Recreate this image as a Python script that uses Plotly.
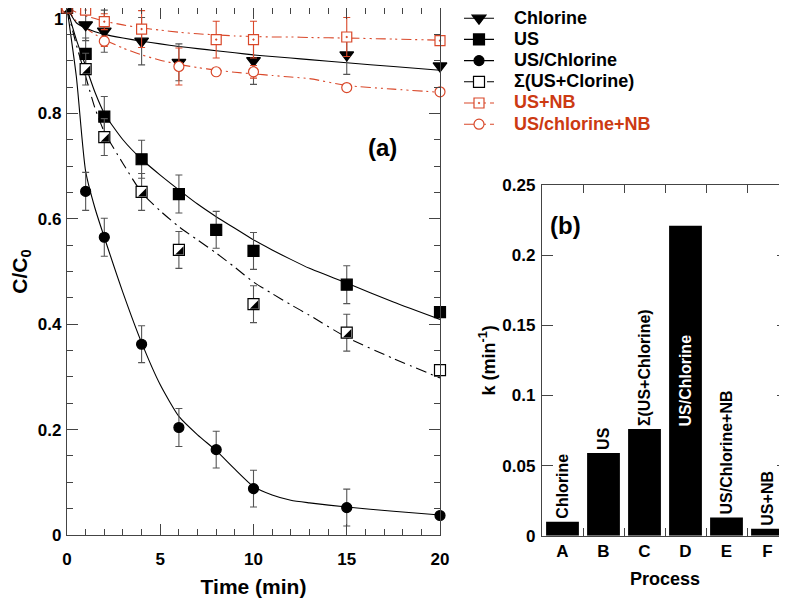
import plotly.graph_objects as go

# ---------------- data (panel a) ----------------
t_chl = [0, 1, 2, 4, 6, 10, 15, 20]
chlorine = [1.0, 0.968, 0.956, 0.937, 0.897, 0.900, 0.911, 0.890]
chlorine_err = [0, 0.03, 0.04, 0.045, 0.035, 0.045, 0.037, 0.0]

t_us = [0, 1, 2, 4, 6, 8, 10, 15, 20]
us = [1.0, 0.913, 0.794, 0.713, 0.647, 0.579, 0.539, 0.475, 0.423]
us_err = [0, 0.03, 0.038, 0.036, 0.036, 0.035, 0.035, 0.036, 0.0]

t_usc = [0, 1, 2, 4, 6, 8, 10, 15, 20]
us_chlorine = [1.0, 0.652, 0.565, 0.362, 0.204, 0.162, 0.088, 0.052, 0.037]
us_chlorine_err = [0, 0.036, 0.036, 0.035, 0.036, 0.035, 0.035, 0.035, 0.0]

t_sig = [0, 1, 2, 4, 6, 10, 15, 20]
sigma = [1.0, 0.884, 0.755, 0.651, 0.541, 0.438, 0.384, 0.313]
sigma_err = [0, 0.03, 0.035, 0.035, 0.035, 0.035, 0.035, 0.0]

t_usnb = [0, 1, 2, 4, 8, 10, 15, 20]
us_nb = [1.0, 0.996, 0.974, 0.960, 0.940, 0.940, 0.945, 0.938]
us_nb_err = [0, 0.0, 0.015, 0.035, 0.035, 0.035, 0.037, 0.0]

t_uscnb = [0, 2, 6, 8, 10, 15, 20]
us_chlorine_nb = [1.0, 0.937, 0.889, 0.879, 0.879, 0.849, 0.841]
us_chlorine_nb_err = [0, 0.01, 0.035, 0.0, 0.012, 0.0, 0.0]

# fitted curves
fit_t = [0, 0.5, 1, 1.5, 2, 3, 4, 5, 6, 7, 8, 9, 10, 11, 12, 13, 15, 17.5, 20]
chlorine_fit = [1.0, 0.972, 0.962, 0.955, 0.950, 0.943, 0.937, 0.932, 0.927, 0.923,
                0.919, 0.915, 0.911, 0.908, 0.905, 0.902, 0.896, 0.889, 0.882]
us_fit = [1.0, 0.94, 0.89, 0.84, 0.80, 0.75, 0.713, 0.683, 0.655, 0.628,
          0.604, 0.582, 0.56, 0.541, 0.523, 0.506, 0.478, 0.442, 0.409]
us_chlorine_fit = [1.0, 0.87, 0.69, 0.62, 0.565, 0.46, 0.365, 0.285, 0.225, 0.19,
                   0.16, 0.125, 0.092, 0.076, 0.066, 0.061, 0.053, 0.045, 0.038]
sigma_fit = [1.0, 0.93, 0.87, 0.81, 0.765, 0.705, 0.65, 0.615, 0.585, 0.56,
             0.535, 0.508, 0.48, 0.458, 0.437, 0.417, 0.375, 0.335, 0.298]
us_nb_fit = [1.0, 0.992, 0.985, 0.98, 0.975, 0.968, 0.962, 0.958, 0.954, 0.951,
             0.949, 0.947, 0.946, 0.945, 0.945, 0.944, 0.943, 0.941, 0.939]
us_chlorine_nb_fit = [1.0, 0.975, 0.962, 0.95, 0.94, 0.924, 0.911, 0.901, 0.893, 0.887,
                      0.882, 0.878, 0.875, 0.872, 0.869, 0.866, 0.853, 0.846, 0.840]

# ---------------- data (panel b) ----------------
processes = ["A", "B", "C", "D", "E", "F"]
process_names = ["Chlorine", "US", "Σ(US+Chlorine)", "US/Chlorine", "US/Chlorine+NB", "US+NB"]
k_values = [0.010, 0.059, 0.076, 0.221, 0.013, 0.005]

x_ticks_a = [0, 5, 10, 15, 20]
y_ticks_a = [0, 0.2, 0.4, 0.6, 0.8]
y_top_tick = 1
y_ticks_b = [0, 0.05, 0.1, 0.15, 0.2, 0.25]

# ---------------- styles ----------------
FONT = "Liberation Sans, Arial, Helvetica, sans-serif"
RED = "#d9482a"
RED_TXT = "#cc3a12"
AX = "#444444"
ERR_BLACK = "#555555"
DASHDOT = "11px,5px,2px,5px"
DASHDOTDOT = "10px,4px,2px,4px,2px,4px"
PAD = "\u00a0\u00a0\u00a0"

# geometry (the page body adds an 8 px offset)
W, H = 787, 598
XA_DOM = [59 / W, 432 / W]
YA_DOM = [(H - 527) / H, 1.0]
XB_DOM = [534 / W, 780 / W]
YB_DOM = [(H - 527.7) / H, (H - 177) / H]

SQ = 11                        # side of the half-filled square marker (px)
TRI = SQ / 1.2                 # triangle-se marker size whose legs equal SQ
SHIFT_PX = SQ / 2 - 0.4 * TRI  # move triangle corner onto square corner
dx = SHIFT_PX * 20 / ((XA_DOM[1] - XA_DOM[0]) * W)
dy = SHIFT_PX * 1 / ((YA_DOM[1] - YA_DOM[0]) * H)

fig = go.Figure()

def add_fit(x, y, color, dash):
    fig.add_trace(go.Scatter(x=x, y=y, mode="lines",
                             line=dict(color=color, width=1.1, dash=dash, shape="spline", smoothing=0.6),
                             showlegend=False, hoverinfo="skip", xaxis="x", yaxis="y"))

def add_points(x, y, err, symbol, color, line_color, size, err_color):
    fig.add_trace(go.Scatter(x=x, y=y, mode="markers",
                             marker=dict(symbol=symbol, size=size, color=color, line=dict(color=line_color, width=1.2)),
                             error_y=dict(type="data", array=err, visible=True, color=err_color, thickness=1.1, width=3.5),
                             cliponaxis=False, showlegend=False, xaxis="x", yaxis="y"))

def add_legend(name, symbol, color, line_color, size, lcolor, dash, rank, txtcolor="black"):
    label = "<span style='font-size:18px;color:%s'>%s%s</span>" % (txtcolor, PAD, name)
    fig.add_trace(go.Scatter(x=[None], y=[None], mode="lines+markers", name=label, legendrank=rank,
                             marker=dict(symbol=symbol, size=size, color=color, line=dict(color=line_color, width=1.2)),
                             line=dict(color=lcolor, width=1.1, dash=dash), xaxis="x", yaxis="y"))

# fits
add_fit(fit_t, us_nb_fit, RED, DASHDOTDOT)
add_fit(fit_t, us_chlorine_nb_fit, RED, DASHDOTDOT)
add_fit(fit_t, chlorine_fit, "black", "solid")
add_fit(fit_t, us_fit, "black", "solid")
add_fit(fit_t, us_chlorine_fit, "black", "solid")
add_fit(fit_t, sigma_fit, "black", DASHDOT)

# points
add_points(t_chl, chlorine, chlorine_err, "triangle-down", "black", "black", 12, ERR_BLACK)
add_points(t_us, us, us_err, "square", "black", "black", 11, ERR_BLACK)
add_points(t_usc, us_chlorine, us_chlorine_err, "circle", "black", "black", 10, ERR_BLACK)
add_points(t_sig, sigma, sigma_err, "square", "white", "black", SQ, ERR_BLACK)
fig.add_trace(go.Scatter(x=t_sig, y=sigma, mode="markers",
                         marker=dict(symbol="triangle-se", size=TRI, color="black", line=dict(width=0)),
                         cliponaxis=False, showlegend=False, xaxis="x3", yaxis="y3"))
add_points(t_usnb, us_nb, us_nb_err, "square-dot", "white", RED, 10, RED)
add_points(t_uscnb, us_chlorine_nb, us_chlorine_nb_err, "circle", "white", RED, 10, RED)

# legend entries
add_legend("Chlorine", "triangle-down", "black", "black", 12, "black", "solid", 1)
add_legend("US", "square", "black", "black", 11, "black", "solid", 2)
add_legend("US/Chlorine", "circle", "black", "black", 10, "black", "solid", 3)
add_legend("Σ(US+Clorine)", "square", "white", "black", 11, "black", DASHDOT, 4)
add_legend("US+NB", "square-dot", "white", RED, 10, RED, DASHDOTDOT, 5, RED_TXT)
add_legend("US/chlorine+NB", "circle", "white", RED, 10, RED, DASHDOTDOT, 6, RED_TXT)

# bars (panel b)
fig.add_trace(go.Bar(x=processes, y=k_values, width=0.8, marker=dict(color="black", line=dict(width=0)),
                     text=process_names, textangle=-90,
                     textposition=["outside", "outside", "outside", "inside", "outside", "outside"],
                     insidetextanchor="middle", constraintext="none",
                     outsidetextfont=dict(size=16, color="black", family=FONT, weight="bold"),
                     insidetextfont=dict(size=16, color="white", family=FONT, weight="bold"),
                     cliponaxis=False, showlegend=False, xaxis="x2", yaxis="y2"))

axis_common = dict(showline=True, linecolor=AX, linewidth=1.4, mirror="ticks", ticks="inside",
                   tickcolor=AX, tickwidth=1.2, showgrid=False, zeroline=False, automargin=False)

fig.update_layout(
    width=W, height=H,
    margin=dict(l=0, r=0, t=0, b=0, autoexpand=False),
    paper_bgcolor="white", plot_bgcolor="white",
    font=dict(family=FONT, size=17, color="black", weight="bold"),
    xaxis=dict(domain=XA_DOM, range=[0, 20], anchor="y", tickvals=x_ticks_a, ticklen=11,
               minor=dict(ticks="inside", dtick=1, ticklen=6, tickcolor=AX, tickwidth=1.1),
               tickfont=dict(size=17), ticklabelstandoff=8,
               title=dict(text="Time (min)", font=dict(size=21), standoff=11), **axis_common),
    yaxis=dict(domain=YA_DOM, range=[0, 1], anchor="x", tickvals=y_ticks_a, ticklen=11,
               minor=dict(ticks="inside", dtick=0.05, ticklen=6, tickcolor=AX, tickwidth=1.1),
               tickfont=dict(size=17), ticklabelstandoff=1,
               title=dict(text="C/C<sub>0</sub>", font=dict(size=21), standoff=12), **axis_common),
    xaxis3=dict(overlaying="x", range=[0 - dx, 20 - dx], visible=False, anchor="y3"),
    yaxis3=dict(overlaying="y", range=[0 + dy, 1 + dy], visible=False, anchor="x3"),
    xaxis2=dict(domain=XB_DOM, anchor="y2", type="category", range=[-0.5, 5.5], tickson="boundaries",
                ticklen=8, tickfont=dict(size=17), ticklabelstandoff=0,
                title=dict(text="Process", font=dict(size=18), standoff=12), **axis_common),
    yaxis2=dict(domain=YB_DOM, anchor="x2", range=[0, 0.25], tickvals=y_ticks_b, ticklen=11,
                tickfont=dict(size=17), ticklabelstandoff=2,
                title=dict(text="k (min<sup>-1</sup>)", font=dict(size=18), standoff=2), **axis_common),
    legend=dict(x=451 / W, y=1.009, xanchor="left", yanchor="top", bgcolor="rgba(0,0,0,0)",
                font=dict(size=14, family=FONT, weight="bold"), tracegroupgap=0,
                traceorder="normal"),
    annotations=[
        dict(text=str(y_top_tick), x=XA_DOM[0], y=y_top_tick, xref="paper", yref="y", xanchor="right",
             yanchor="top", xshift=-2, yshift=0, showarrow=False, font=dict(size=17)),
        dict(text="(a)", x=16.94, y=0.736, xref="x", yref="y", showarrow=False, font=dict(size=24)),
        dict(text="(b)", x=575 / W, y=1 - 217 / H, xref="paper", yref="paper", showarrow=False, font=dict(size=24)),
    ],
)

fig.write_html("out.html")
